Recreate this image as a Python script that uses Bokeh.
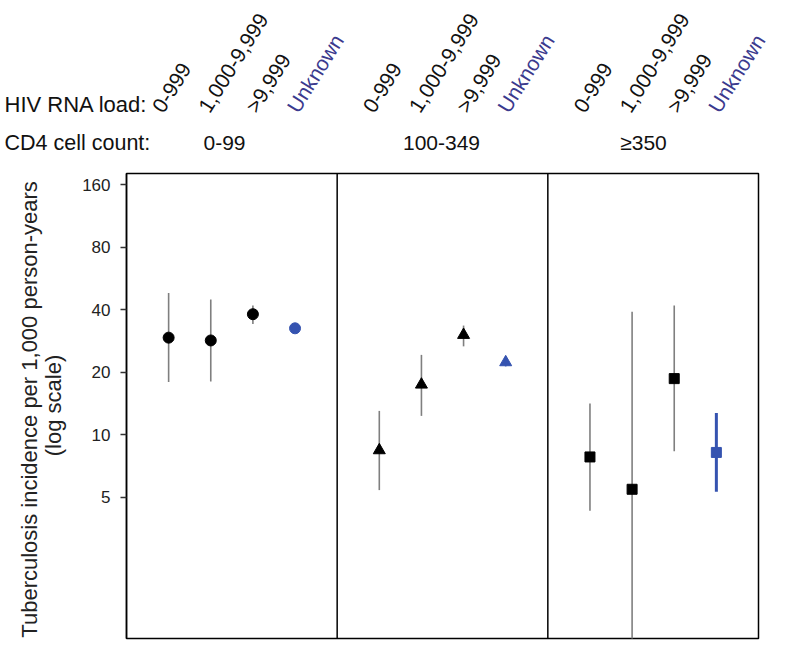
import math
from bokeh.plotting import figure
from bokeh.layouts import column, row
from bokeh.models import Label, Span, FixedTicker, PrintfTickFormatter, ColumnDataSource, Range1d
from bokeh.embed import file_html
from bokeh.resources import INLINE

# ---- data ----
cd4_groups = ["0-99", "100-349", "\u2265350"]
rna_labels = ["0-999", "1,000-9,999", ">9,999", "Unknown"]
markers = ["circle", "triangle", "square"]

est_cd4_0_99 = [29.3, 28.4, 38.0, 32.5]
lo_cd4_0_99 = [17.9, 18.0, 34.1, 31.0]
hi_cd4_0_99 = [48.1, 44.7, 41.8, 34.3]

est_cd4_100_349 = [8.4, 17.4, 30.2, 22.3]
lo_cd4_100_349 = [5.4, 12.3, 26.6, 21.3]
hi_cd4_100_349 = [13.0, 24.2, 33.5, 23.3]

est_cd4_350 = [7.8, 5.45, 18.6, 8.2]
lo_cd4_350 = [4.3, 0.9, 8.3, 5.3]
hi_cd4_350 = [14.1, 39.1, 41.8, 12.7]

y_ticks = [5, 10, 20, 40, 80, 160]
y_label_lines = ["Tuberculosis incidence per 1,000 person-years", "(log scale)"]
row_titles = ["HIV RNA load:", "CD4 cell count:"]

estimates = [est_cd4_0_99, est_cd4_100_349, est_cd4_350]
lows = [lo_cd4_0_99, lo_cd4_100_349, lo_cd4_350]
highs = [hi_cd4_0_99, hi_cd4_100_349, hi_cd4_350]

# ---- style / layout ----
FONT = "Liberation Sans"
BLACK = "#000000"
TXT = "#111111"
GREY = "#7f7f7f"
BLUE = "#3553b0"
NAVY = "#3b3a8e"

TOTAL_W = 784
TOP_H = 165          # header strip height
MAIN_H = 475         # plot height
STRIP_W = 76         # y-label strip width
FRAME_L = 126        # page x of frame left edge
FRAME_R = 758        # page x of frame right edge
NX = 15.0
PPU = (FRAME_R - FRAME_L) / NX   # pixels per x unit
LABEL_DX = [-11, -7, -2, -3]     # per-label pixel nudges of the rotated labels


def xdata(page_x):
    return (page_x - FRAME_L) / PPU


# ---------- header figure ----------
top = figure(width=TOTAL_W, height=TOP_H, output_backend="svg", toolbar_location=None,
             x_range=Range1d(xdata(0), xdata(TOTAL_W)), y_range=Range1d(TOP_H, 0),
             x_axis_location=None, y_axis_location=None, min_border=0)
top.grid.visible = False
top.outline_line_color = None

for g, grp in enumerate(cd4_groups):
    for j, lab in enumerate(rna_labels):
        top.add_layout(Label(x=5 * g + j + 1, y=110, x_offset=LABEL_DX[j], text=lab,
                             angle=math.radians(58), text_font=FONT, text_font_size="21px",
                             text_color=NAVY if lab == "Unknown" else TXT,
                             text_align="left", text_baseline="middle"))
group_label_px = [224, 441, 643]
for g, grp in enumerate(cd4_groups):
    top.add_layout(Label(x=xdata(group_label_px[g]), y=142, text=grp, text_font=FONT,
                         text_font_size="21px", text_color=TXT,
                         text_align="center", text_baseline="middle"))
for t, ry, fs in zip(row_titles, [104, 142], ["22px", "21.5px"]):
    top.add_layout(Label(x=xdata(4), y=ry, text=t, text_font=FONT, text_font_size=fs,
                         text_color=TXT, text_align="left", text_baseline="middle"))

# ---------- y-label strip ----------
strip = figure(width=STRIP_W, height=MAIN_H, output_backend="svg", toolbar_location=None,
               x_range=Range1d(0, STRIP_W), y_range=Range1d(TOP_H + MAIN_H, TOP_H),
               x_axis_location=None, y_axis_location=None, min_border=0)
strip.grid.visible = False
strip.outline_line_color = None
for line, cx, cy in zip(y_label_lines, [29, 53], [406, 402]):
    strip.add_layout(Label(x=cx, y=cy, text=line, angle=math.pi / 2, text_font=FONT,
                           text_font_size="22px", text_color="#222222",
                           text_align="center", text_baseline="middle"))

# ---------- main plot ----------
p = figure(width=TOTAL_W - STRIP_W, height=MAIN_H, output_backend="svg", toolbar_location=None,
           y_axis_type="log", x_axis_location=None,
           x_range=Range1d(0, NX), y_range=Range1d(1.041, 181.0),
           min_border_left=FRAME_L - STRIP_W, min_border_right=TOTAL_W - FRAME_R,
           min_border_top=8, min_border_bottom=2)
p.grid.visible = False
p.outline_line_color = BLACK
p.outline_line_width = 1.5

ya = p.yaxis[0]
ya.ticker = FixedTicker(ticks=y_ticks, minor_ticks=[])
ya.formatter = PrintfTickFormatter(format="%d")
ya.major_tick_out = 6
ya.major_tick_in = 0
ya.minor_tick_out = 0
ya.minor_tick_in = 0
ya.major_tick_line_color = "#333333"
ya.major_tick_line_width = 1.5
ya.axis_line_color = BLACK
ya.axis_line_width = 1.5
ya.major_label_text_font = FONT
ya.major_label_text_font_size = "17px"
ya.major_label_text_color = "#222222"
ya.major_label_standoff = 10

for g in range(1, len(cd4_groups)):
    p.add_layout(Span(location=5 * g, dimension="height", line_color=BLACK, line_width=1.5))

for g, grp in enumerate(cd4_groups):
    xs = [5 * g + j + 1 for j in range(len(rna_labels))]
    cols = [BLACK, BLACK, BLACK, BLUE]
    ecol = [GREY, GREY, GREY, BLUE]
    ew = [1.6, 1.6, 1.6, 1.6]
    if g == 2:
        ew[3] = 3
    src = ColumnDataSource(dict(x=xs, y=estimates[g], lo=lows[g], hi=highs[g],
                                c=cols, ec=ecol, ew=ew))
    p.segment(x0="x", y0="lo", x1="x", y1="hi", source=src, line_color="ec", line_width="ew")
    size = {"circle": 11, "triangle": 12, "square": 10}[markers[g]]
    p.scatter(x="x", y="y", source=src, marker=markers[g], size=size,
              fill_color="c", line_color="c")

layout = column(top, row(strip, p, spacing=0), spacing=0)
open("out.html", "w").write(file_html(layout, INLINE))
